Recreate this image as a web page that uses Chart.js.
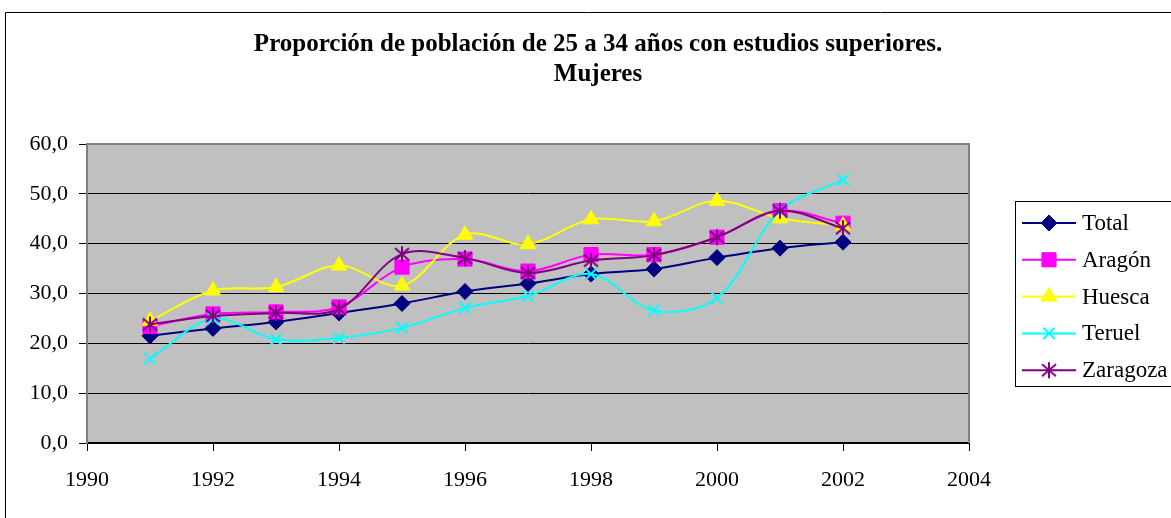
<!DOCTYPE html>
<html>
<head>
<meta charset="utf-8">
<script src="https://cdn.jsdelivr.net/npm/chart.js@4"></script>
<style>
  body { margin: 0; background: #fff; }
</style>
</head>
<body>
<canvas id="chart" width="1171" height="518"></canvas>
<script>
// Proporción de población de 25 a 34 años con estudios superiores - Mujeres

const years = [1991, 1992, 1993, 1994, 1995, 1996, 1997, 1998, 1999, 2000, 2001, 2002];

const total    = [21.5, 23.0, 24.3, 26.1, 28.0, 30.4, 32.0, 33.9, 34.9, 37.2, 39.1, 40.3];
const aragon   = [23.4, 25.9, 26.3, 27.3, 35.3, 36.9, 34.5, 37.8, 37.8, 41.3, 46.6, 44.1];
const huesca   = [24.5, 30.6, 31.3, 35.6, 31.6, 41.8, 39.9, 44.9, 44.5, 48.6, 45.1, 43.6];
const teruel   = [16.9, 24.9, 20.8, 21.1, 23.1, 27.1, 29.5, 33.9, 26.6, 29.1, 46.6, 52.8];
const zaragoza = [23.8, 25.5, 26.1, 26.9, 37.9, 37.1, 34.1, 36.6, 37.7, 41.3, 46.6, 43.1];

const titleLines = ['Proporción de población de 25 a 34 años con estudios superiores.', 'Mujeres'];

const serif = '"Liberation Serif", "Times New Roman", serif';

// Excel-style asterisk marker (vertical bar + two diagonals)
function makeAsterisk(color) {
    const c = document.createElement('canvas');
    c.width = 18;
    c.height = 18;
    const g = c.getContext('2d');
    g.strokeStyle = color;
    g.lineWidth = 2;
    g.beginPath();
    g.moveTo(9, 1); g.lineTo(9, 17);
    g.moveTo(2, 3); g.lineTo(16, 15);
    g.moveTo(16, 3); g.lineTo(2, 15);
    g.stroke();
    return c;
}

// series look: label, values, colour, marker
const series = [
    { label: 'Total',    data: total,    color: '#000080', style: 'rectRot',  radius: 8 },
    { label: 'Aragón',   data: aragon,   color: '#FF00FF', style: 'rect',     radius: 10 },
    { label: 'Huesca',   data: huesca,   color: '#FFFF00', style: 'triangle', radius: 9 },
    { label: 'Teruel',   data: teruel,   color: '#00FFFF', style: 'crossRot', radius: 8 },
    { label: 'Zaragoza', data: zaragoza, color: '#800080', style: makeAsterisk('#800080'), radius: 8 }
];

const datasets = series.map((s, i) => ({
    label: s.label,
    data: s.data.map((v, j) => ({ x: years[j], y: v })),
    borderColor: s.color,
    backgroundColor: s.color,
    borderWidth: 2,
    tension: 0.35,
    pointStyle: s.style,
    pointRadius: s.radius,
    pointBorderWidth: s.style === 'crossRot' ? 2 : 1,
    pointBackgroundColor: s.color,
    pointBorderColor: s.color,
    order: series.length - i
}));

// background, frame, title and legend drawn around the plot
const decorPlugin = {
    id: 'decor',
    beforeDraw(chart) {
        const ctx = chart.ctx;
        const a = chart.chartArea;
        ctx.save();
        ctx.fillStyle = '#fff';
        ctx.fillRect(0, 0, chart.width, chart.height);
        // outer chart border
        ctx.strokeStyle = '#000';
        ctx.lineWidth = 1;
        ctx.beginPath();
        ctx.moveTo(5.5, chart.height + 5);
        ctx.lineTo(5.5, 12.5);
        ctx.lineTo(chart.width + 5, 12.5);
        ctx.stroke();
        // plot area
        ctx.fillStyle = '#C0C0C0';
        ctx.fillRect(a.left, a.top, a.right - a.left, a.bottom - a.top);
        ctx.restore();
    },
    beforeDatasetsDraw(chart) {
        const ctx = chart.ctx;
        const a = chart.chartArea;
        ctx.save();
        ctx.strokeStyle = '#808080';
        ctx.lineWidth = 2;
        ctx.beginPath();
        ctx.moveTo(a.left, a.top);
        ctx.lineTo(a.right, a.top);
        ctx.lineTo(a.right, a.bottom);
        ctx.stroke();
        ctx.restore();
    },
    afterDraw(chart) {
        const ctx = chart.ctx;
        ctx.save();
        // title
        ctx.fillStyle = '#000';
        ctx.font = 'bold 25px ' + serif;
        ctx.textAlign = 'center';
        ctx.textBaseline = 'alphabetic';
        ctx.fillText(titleLines[0], 598, 51);
        ctx.fillText(titleLines[1], 598, 81);

        // legend box
        ctx.strokeStyle = '#000';
        ctx.lineWidth = 1;
        ctx.strokeRect(1015.5, 201.5, 170, 185);
        ctx.font = '23px ' + serif;
        ctx.textAlign = 'left';
        ctx.textBaseline = 'middle';
        series.forEach((s, i) => {
            const y = 223 + i * 36.8;
            ctx.strokeStyle = s.color;
            ctx.fillStyle = s.color;
            ctx.lineWidth = 2;
            ctx.beginPath();
            ctx.moveTo(1022, y);
            ctx.lineTo(1076, y);
            ctx.stroke();
            ctx.lineWidth = s.style === 'crossRot' ? 2 : 1;
            Chart.helpers.drawPoint(ctx, { pointStyle: s.style, radius: s.radius, rotation: 0, borderWidth: ctx.lineWidth }, 1049, y);
            ctx.fillStyle = '#000';
            ctx.fillText(s.label, 1082, y + 1);
        });
        ctx.restore();
    }
};

const ctx = document.getElementById('chart').getContext('2d');
new Chart(ctx, {
    type: 'line',
    data: { datasets: datasets },
    options: {
        responsive: false,
        animation: false,
        layout: { padding: { top: 144, right: 202, left: 0, bottom: 0 } },
        scales: {
            x: {
                type: 'linear',
                min: 1990,
                max: 2004,
                afterFit: scale => { scale.height = 75; },
                grid: { drawOnChartArea: false, drawTicks: true, tickLength: 8, color: '#000' },
                border: { color: '#000', width: 2 },
                ticks: {
                    stepSize: 2,
                    padding: 16,
                    color: '#000',
                    font: { family: serif, size: 22 },
                    callback: v => String(v)
                }
            },
            y: {
                min: 0,
                max: 60,
                afterFit: scale => { scale.width = 87; },
                grid: {
                    color: c => (c.tick && c.tick.value === 60) ? '#808080' : '#000',
                    tickColor: '#000',
                    tickLength: 8
                },
                border: { color: '#808080', width: 2 },
                ticks: {
                    stepSize: 10,
                    padding: 11,
                    color: '#000',
                    font: { family: serif, size: 22 },
                    callback: v => v.toFixed(1).replace('.', ',')
                }
            }
        },
        plugins: {
            legend: { display: false },
            title: { display: false },
            tooltip: { enabled: false }
        }
    },
    plugins: [decorPlugin]
});
</script>
</body>
</html>
